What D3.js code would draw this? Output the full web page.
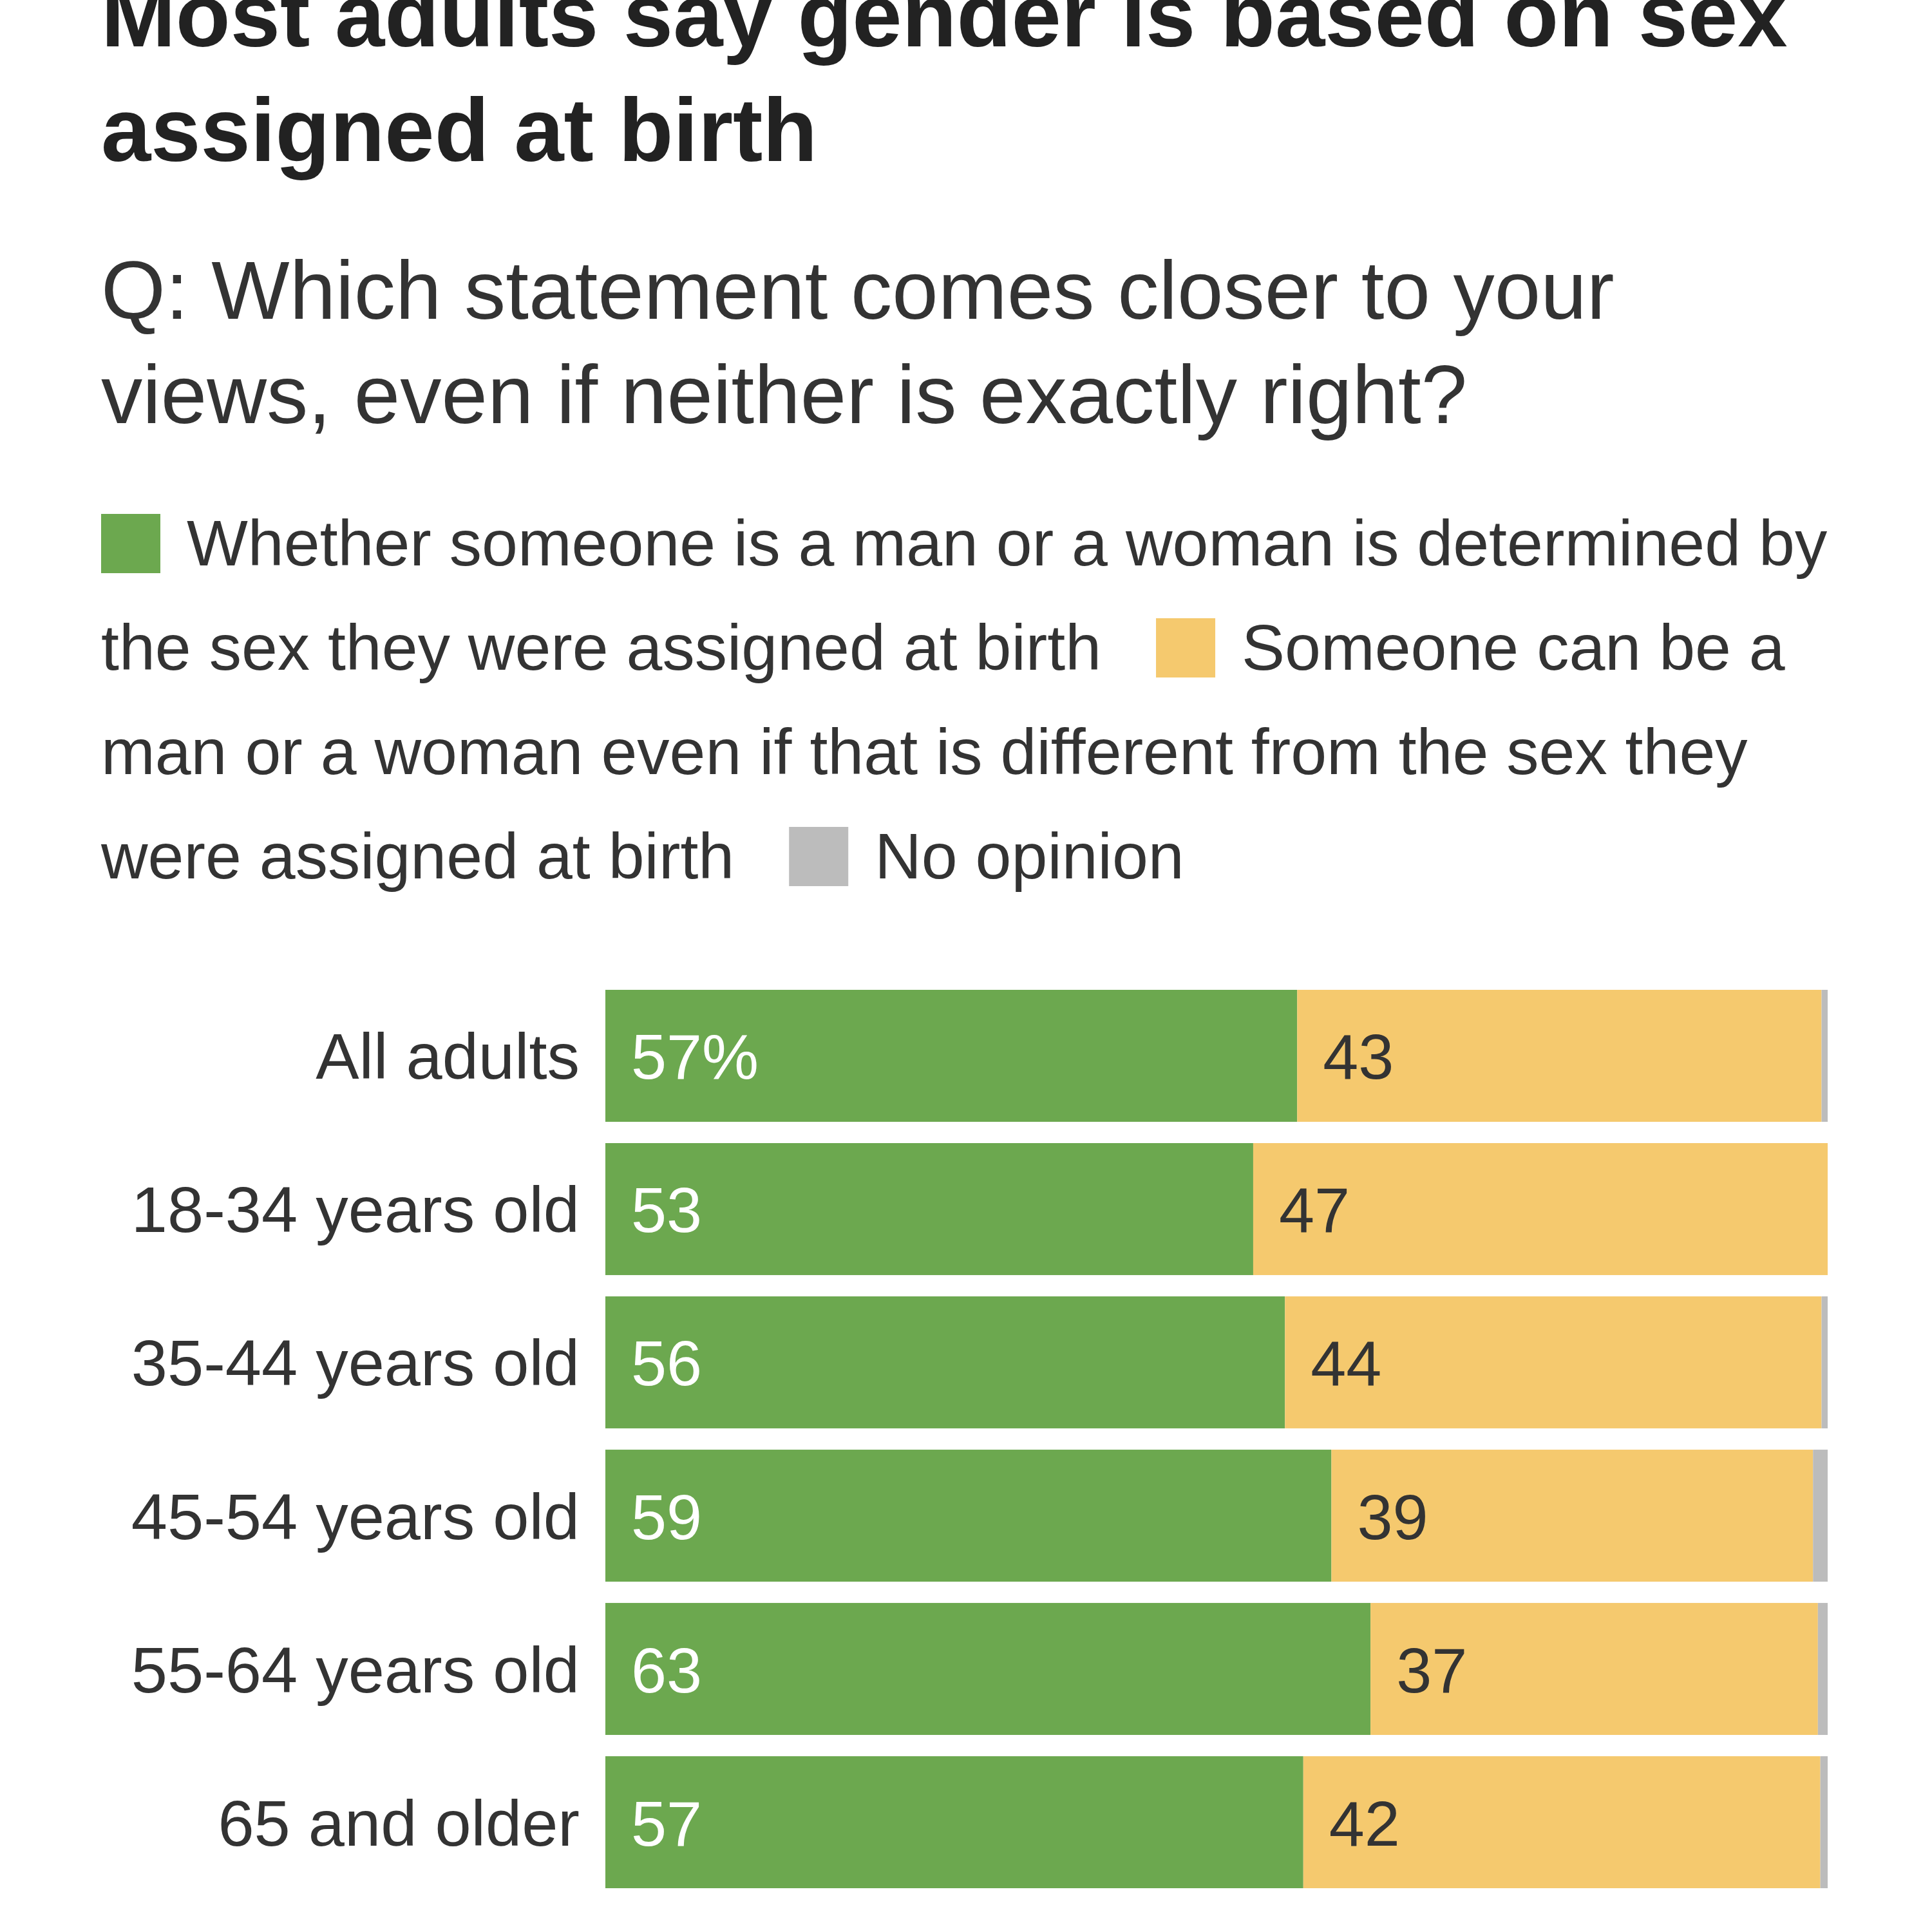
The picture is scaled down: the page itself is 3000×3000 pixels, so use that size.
<!DOCTYPE html>
<html>
<head>
<meta charset="utf-8">
<script src="https://cdn.jsdelivr.net/npm/d3@7"></script>
<style>
  body { margin: 0; background: #fff; }
</style>
</head>
<body>
<div id="chart"></div>
<script>
// groups, top to bottom
var groups = ['All adults', '18-34 years old', '35-44 years old', '45-54 years old', '55-64 years old', '65 and older'];
// share of each answer, percent
var birthSex = [56.6, 53.0, 55.6, 59.4, 62.6, 57.1];
var canDiffer = [42.9, 47.0, 43.9, 39.4, 36.6, 42.3];
var noOpinion = [0.5, 0.0, 0.5, 1.2, 0.8, 0.6];

var seriesKeys = ['birthSex', 'canDiffer', 'noOpinion'];
var seriesLabels = [
    'Whether someone is a man or a woman is determined by the sex they were assigned at birth',
    'Someone can be a man or a woman even if that is different from the sex they were assigned at birth',
    'No opinion'
];

var titleLines = ['Most adults say gender is based on sex', 'assigned at birth'];
var subtitleLines = ['Q: Which statement comes closer to your', 'views, even if neither is exactly right?'];

var font = '"Liberation Sans", Arial, sans-serif';

var rows = groups.map(function(g, i) {
    return { group: g, birthSex: birthSex[i], canDiffer: canDiffer[i], noOpinion: noOpinion[i] };
});

var color = d3.scaleOrdinal()
    .domain(seriesKeys)
    .range(['#6ca84f', '#f5c96e', '#bcbcbc']);

var svg = d3.select('#chart').append('svg')
    .attr('width', 3000)
    .attr('height', 3000)
    .style('font-family', font);

var left = 157;

// title (the first line runs off the top, as in the source)
svg.append('g')
    .attr('fill', '#222')
    .attr('font-weight', 'bold')
    .attr('font-size', '139px')
  .selectAll('text')
    .data(titleLines)
  .join('text')
    .attr('x', left)
    .attr('y', function(d, i) { return 72 + i * 178; })
    .text(function(d) { return d; });

// subtitle
svg.append('g')
    .attr('fill', '#333')
    .attr('font-size', '128.5px')
  .selectAll('text')
    .data(subtitleLines)
  .join('text')
    .attr('x', left)
    .attr('y', function(d, i) { return 495 + i * 162; })
    .text(function(d) { return d; });

// legend, flowing like inline text
var legend = svg.append('g')
    .attr('fill', '#333')
    .attr('font-size', '100.5px');

var probe = legend.append('text').attr('visibility', 'hidden');
function measure(s) {
    probe.text(s);
    return probe.node().getComputedTextLength();
}

var maxX = 2870, lineH = 162;
var lx = left, ly = 878;
seriesKeys.forEach(function(k, i) {
    if (i > 0) lx += 85;
    if (lx + 92 > maxX) { lx = left; ly += lineH; }
    legend.append('rect')
        .attr('x', lx)
        .attr('y', ly - 80)
        .attr('width', 92)
        .attr('height', 92)
        .attr('fill', color(k));
    lx += 92 + 41;

    var segX = lx, seg = '';
    seriesLabels[i].split(' ').forEach(function(w) {
        var trial = seg ? seg + ' ' + w : w;
        if (seg && segX + measure(trial) > maxX) {
            legend.append('text').attr('x', segX).attr('y', ly).text(seg);
            ly += lineH;
            segX = left;
            seg = w;
        } else {
            seg = trial;
        }
    });
    legend.append('text').attr('x', segX).attr('y', ly).text(seg);
    lx = segX + measure(seg);
});
probe.remove();

// bars
var x = d3.scaleLinear()
    .domain([0, 100])
    .range([940, 2838]);

var y = d3.scaleBand()
    .domain(groups)
    .range([1537, 2932])
    .paddingInner(0.139)
    .paddingOuter(0);

var stacked = d3.stack().keys(seriesKeys)(rows);

svg.append('g')
  .selectAll('g')
    .data(stacked)
  .join('g')
    .attr('fill', function(d) { return color(d.key); })
  .selectAll('rect')
    .data(function(d) { return d; })
  .join('rect')
    .attr('x', function(d) { return x(d[0]); })
    .attr('y', function(d) { return y(d.data.group); })
    .attr('width', function(d) { return x(d[1]) - x(d[0]); })
    .attr('height', y.bandwidth());

// group labels
svg.append('g')
    .attr('fill', '#333')
    .attr('font-size', '101px')
    .attr('text-anchor', 'end')
  .selectAll('text')
    .data(groups)
  .join('text')
    .attr('x', 900)
    .attr('y', function(d) { return y(d) + y.bandwidth() / 2 + 36; })
    .text(function(d) { return d; });

// value labels for the two main answers
var valueLayers = stacked.slice(0, 2);
svg.append('g')
    .attr('font-size', '99px')
  .selectAll('g')
    .data(valueLayers)
  .join('g')
    .attr('fill', function(d) { return d.key === 'birthSex' ? '#fff' : '#333'; })
  .selectAll('text')
    .data(function(d) { return d; })
  .join('text')
    .attr('x', function(d) { return x(d[0]) + 40; })
    .attr('y', function(d) { return y(d.data.group) + y.bandwidth() / 2 + 36; })
    .text(function(d, i) {
        var v = Math.round(d[1] - d[0]);
        return (i === 0 && d[0] === 0) ? v + '%' : v;
    });
</script>
</body>
</html>
